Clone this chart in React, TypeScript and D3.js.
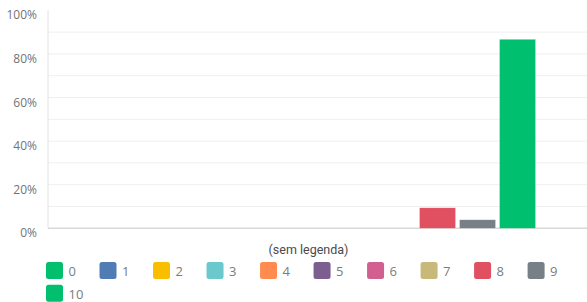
import * as d3 from "d3";

const categories = ["(sem legenda)"];
const seriesNames = ["0", "1", "2", "3", "4", "5", "6", "7", "8", "9", "10"];
const seriesValues = [0, 0, 0, 0, 0, 0, 0, 0, 9.4, 3.9, 86.7];
const seriesColors = [
  "#00bf6f", "#507cb6", "#f9be00", "#6bc8cd", "#ff8b4f", "#7d5e90",
  "#d25f90", "#c8b879", "#e05061", "#768086", "#00bf6f",
];
const gridTicks = [10, 20, 30, 40, 50, 60, 70, 80, 90];
const labelTicks = [0, 20, 40, 60, 80, 100];

const W = 587;
const H = 302;
const left = 48;
const top = 10.3;
const bottom = 228.3;

export default function App() {
  const y = d3.scaleLinear().domain([0, 100]).range([bottom, top]);
  const x0 = d3.scaleBand().domain(categories).range([left, W]).paddingInner(0).paddingOuter(0.118);
  const x1 = d3.scaleBand().domain(seriesNames).range([0, x0.bandwidth()]).paddingInner(0.1).paddingOuter(0);

  const legendX = d3.scaleLinear().domain([0, 9]).range([46, 527.6]);

  return (
    <svg width={W} height={H} style={{ position: "absolute", left: 0, top: 0 }} fontFamily="'Open Sans', sans-serif">
      {/* gridlines */}
      {gridTicks.map((t) => (
        <line key={t} x1={left} x2={W} y1={y(t)} y2={y(t)} stroke="#efefef" strokeWidth={1} />
      ))}
      <line x1={left} x2={left} y1={top} y2={bottom} stroke="#e2e2e2" />
      <line x1={left} x2={W} y1={bottom} y2={bottom} stroke="#d9d9d9" strokeWidth={1.5} />

      {labelTicks.map((t) => (
        <text key={t} x={37} y={y(t) + 4.5} textAnchor="end" dominantBaseline="central" fontSize={12} fill="#737373">
          {t}%
        </text>
      ))}

      {categories.map((c) => (
        <g key={c} transform={`translate(${x0(c)},0)`}>
          {seriesNames.map((s, i) =>
            seriesValues[i] > 0 ? (
              <rect
                key={s}
                x={x1(s)}
                y={y(seriesValues[i])}
                width={x1.bandwidth()}
                height={bottom - y(seriesValues[i])}
                fill={seriesColors[i]}
                stroke="#ffffff"
                strokeOpacity={0.5}
                strokeWidth={0.5}
              />
            ) : null
          )}
          <text
            x={x0.bandwidth() / 2 - 9}
            y={249}
            textAnchor="middle"
            dominantBaseline="central"
            fontSize={12.5}
            fill="#4a4a4a"
            fontFamily="Roboto, sans-serif"
          >
            {c}
          </text>
        </g>
      ))}

      {/* legend */}
      {seriesNames.map((s, i) => {
        const row = Math.floor(i / 10);
        const col = i % 10;
        const lx = legendX(col);
        const ly = 262 + row * 22.7;
        return (
          <g key={s} transform={`translate(${lx},${ly})`}>
            <rect width={17} height={17} rx={2.5} fill={seriesColors[i]} />
            <text x={22.5} y={9} dominantBaseline="central" fontSize={13} fill="#7a7d80">
              {s}
            </text>
          </g>
        );
      })}
    </svg>
  );
}
